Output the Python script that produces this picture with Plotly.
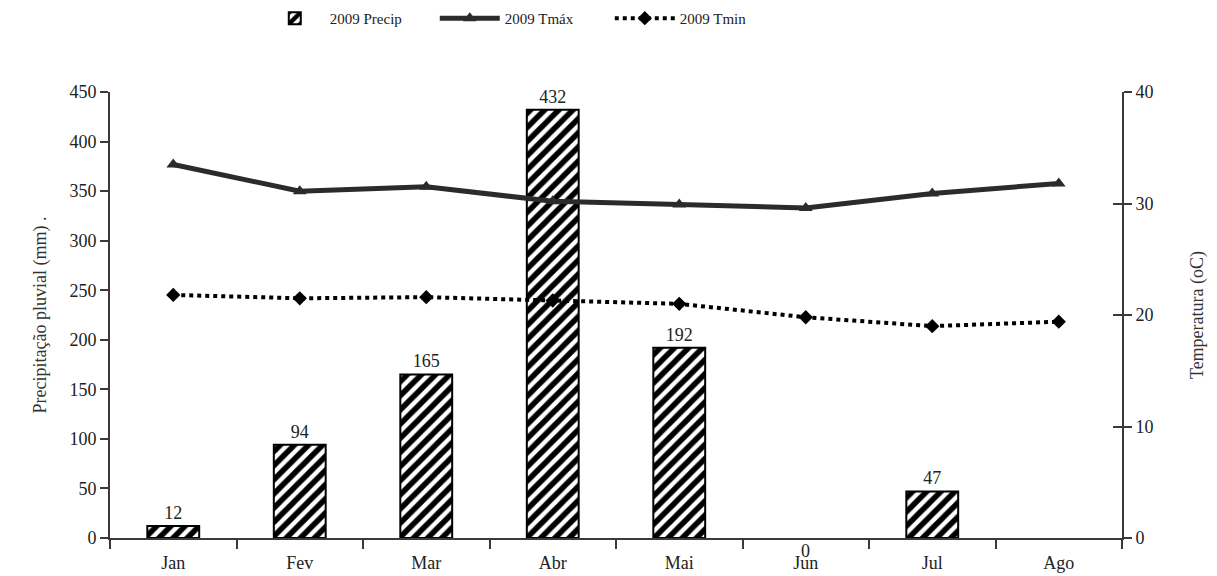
import plotly.graph_objects as go

meses = ["Jan", "Fev", "Mar", "Abr", "Mai", "Jun", "Jul", "Ago"]
precip = [12, 94, 165, 432, 192, 0, 47, None]
tmax = [33.5, 31.1, 31.5, 30.2, 29.9, 29.6, 30.9, 31.8]
tmin = [21.8, 21.5, 21.6, 21.3, 21.0, 19.8, 19.0, 19.4]

FONT = "'Liberation Serif', 'Times New Roman', serif"
AXIS_COLOR = "#3a3a3a"
TEXT_COLOR = "#222"

# bars with zero height get no outline and their label goes under the axis
bar_text = ["" if v in (None, 0) else str(v) for v in precip]
bar_line = [0 if v in (None, 0) else 2 for v in precip]

fig = go.Figure()

fig.add_trace(go.Bar(
    x=meses, y=precip, name="2009 Precip",
    width=0.41,
    marker=dict(
        color="white",
        line=dict(color="black", width=bar_line),
        pattern=dict(shape="/", fgcolor="black", bgcolor="white", size=10,
                     solidity=0.55, fillmode="replace"),
    ),
    text=bar_text,
    textposition="outside",
    textfont=dict(family=FONT, size=18, color=TEXT_COLOR),
    cliponaxis=False,
))

for m, v in zip(meses, precip):
    if v == 0:
        fig.add_annotation(x=m, y=v, text=str(v), showarrow=False, yanchor="top",
                           yshift=-1, font=dict(family=FONT, size=18, color=TEXT_COLOR))

fig.add_trace(go.Scatter(
    x=meses, y=tmax, name="2009 Tmáx", yaxis="y2",
    mode="lines+markers",
    line=dict(color="#2b2b2b", width=5),
    marker=dict(symbol="triangle-up", size=12, color="#2b2b2b"),
))

fig.add_trace(go.Scatter(
    x=meses, y=tmin, name="2009 Tmin", yaxis="y2",
    mode="lines+markers",
    line=dict(color="black", width=4, dash="dot"),
    marker=dict(symbol="diamond", size=11, color="black"),
))

tick_font = dict(family=FONT, size=18, color=TEXT_COLOR)

fig.update_layout(
    width=1217, height=576,
    margin=dict(l=110, r=95, t=92, b=38, autoexpand=False),
    paper_bgcolor="white", plot_bgcolor="white",
    font=dict(family=FONT, size=17, color=TEXT_COLOR),
    showlegend=True,
    legend=dict(
        orientation="h", x=0.148, xanchor="left", y=1.165, yanchor="middle",
        font=dict(family=FONT, size=15, color=TEXT_COLOR),
        entrywidth=100, entrywidthmode="pixels", itemwidth=60,
    ),
    xaxis=dict(
        showgrid=False, showline=True, linecolor=AXIS_COLOR, linewidth=2,
        ticks="outside", tickson="boundaries", ticklen=9, tickcolor=AXIS_COLOR, tickwidth=2,
        tickfont=tick_font, ticklabelstandoff=7,
    ),
    yaxis=dict(
        range=[0, 450], dtick=50, showgrid=False, zeroline=False,
        showline=True, linecolor=AXIS_COLOR, linewidth=2,
        ticks="outside", ticklen=8, tickcolor=AXIS_COLOR, tickwidth=1.5,
        tickfont=tick_font,
        title=dict(text="Precipitação pluvial (mm) .", font=dict(family=FONT, size=18, color="#333"), standoff=18),
    ),
    yaxis2=dict(
        range=[0, 40], dtick=10, overlaying="y", side="right", showgrid=False, zeroline=False,
        showline=True, linecolor=AXIS_COLOR, linewidth=2,
        ticks="outside", ticklen=8, tickcolor=AXIS_COLOR, tickwidth=1.5,
        tickfont=tick_font,
        title=dict(text="Temperatura (oC)", font=dict(family=FONT, size=18, color="#333"), standoff=38),
    ),
    # inner half of the crossing tick marks on the temperature axis
    yaxis3=dict(
        range=[0, 40], dtick=10, overlaying="y", side="right", showgrid=False, zeroline=False,
        showline=False, showticklabels=False,
        ticks="inside", ticklen=9, tickcolor=AXIS_COLOR, tickwidth=1.5,
    ),
)

# empty trace so the third axis is drawn
fig.add_trace(go.Scatter(x=[], y=[], yaxis="y3", showlegend=False, hoverinfo="skip"))

fig.write_html("out.html")
